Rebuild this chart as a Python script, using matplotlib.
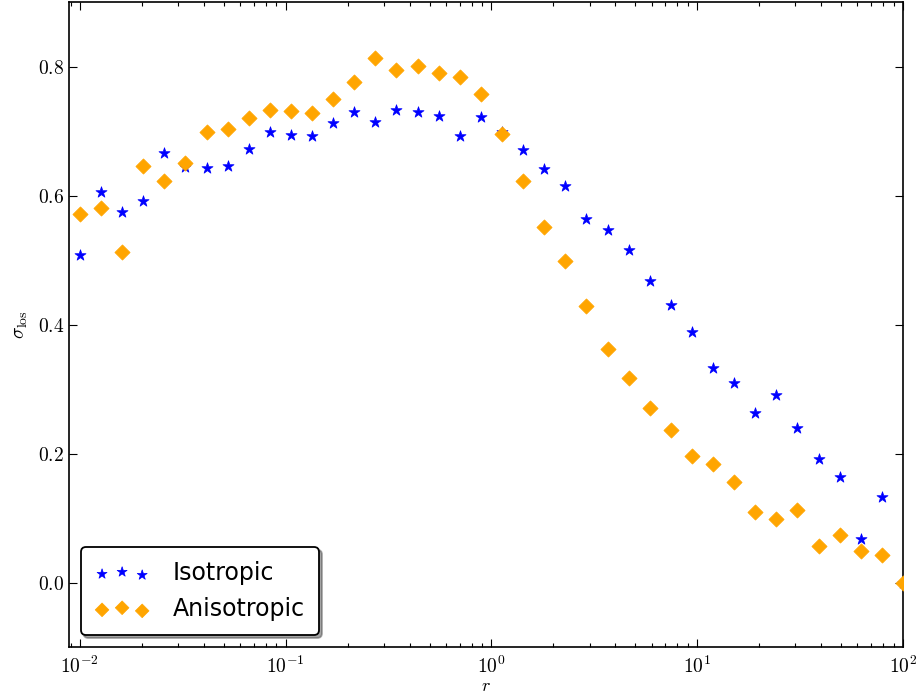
import numpy as np
import matplotlib
matplotlib.use('Agg')
from matplotlib import pyplot as plt
from matplotlib.ticker import FixedLocator, FuncFormatter

# radii (log spaced, 40 bins from 1e-2 to 1e2)
r = [0.01, 0.01267, 0.01604, 0.02031, 0.02572, 0.03257, 0.04125, 0.05223,
     0.06614, 0.08376, 0.1061, 0.1343, 0.1701, 0.2154, 0.2728, 0.3455,
     0.4375, 0.5541, 0.7017, 0.8886, 1.125, 1.425, 1.805, 2.285, 2.894,
     3.665, 4.642, 5.878, 7.444, 9.427, 11.94, 15.12, 19.15, 24.24, 30.70,
     38.88, 49.24, 62.36, 78.97, 100.0]

sig_iso = [0.507, 0.605, 0.575, 0.591, 0.666, 0.644, 0.642, 0.645, 0.672,
           0.699, 0.694, 0.692, 0.713, 0.730, 0.714, 0.733, 0.730, 0.724,
           0.693, 0.722, 0.698, 0.671, 0.641, 0.615, 0.563, 0.546, 0.515,
           0.468, 0.431, 0.388, 0.333, 0.310, 0.263, 0.290, 0.239, 0.192,
           0.164, 0.068, 0.133, 0.0]

sig_aniso = [0.572, 0.581, 0.512, 0.645, 0.623, 0.650, 0.699, 0.703, 0.720,
             0.732, 0.731, 0.728, 0.749, 0.776, 0.813, 0.795, 0.801, 0.790,
             0.783, 0.758, 0.696, 0.622, 0.551, 0.498, 0.428, 0.362, 0.317,
             0.271, 0.237, 0.196, 0.183, 0.156, 0.110, 0.099, 0.112, 0.057,
             0.073, 0.049, 0.043, 0.0]

plt.rcParams['mathtext.fontset'] = 'cm'

fig = plt.figure(figsize=(9.19, 6.96), dpi=100)
ax = fig.add_axes([69 / 919, 1 - 647 / 696, 834 / 919, 645 / 696])

ax.scatter(r, sig_iso, marker='*', s=70, c='blue', edgecolors='blue',
           linewidths=0.5, label='Isotropic', zorder=3)
ax.scatter(r, sig_aniso, marker='D', s=60, c='orange', edgecolors='orange',
           linewidths=0.5, label='Anisotropic', zorder=3)

ax.set_xscale('log')
ax.set_xlim(0.00885, 100)
ax.set_ylim(-0.1, 0.9)

ax.yaxis.set_major_locator(FixedLocator([0.0, 0.2, 0.4, 0.6, 0.8]))
ax.yaxis.set_major_formatter(FuncFormatter(lambda v, p: r'$%.1f$' % v))
ax.xaxis.set_major_formatter(FuncFormatter(lambda v, p: r'$10^{%d}$' % round(np.log10(v))))

ax.tick_params(which='both', direction='in', top=True, right=True, labelsize=14)
ax.tick_params(which='major', length=6, width=0.8)
ax.tick_params(which='minor', length=3, width=0.8)
ax.tick_params(axis='x', pad=6)
for sp in ax.spines.values():
    sp.set_linewidth(1.2)

ax.set_xlabel(r'$r$', fontsize=13, labelpad=0)
ax.set_ylabel(r'$\sigma_{\rm los}$', fontsize=14, labelpad=6)

leg = ax.legend(loc='lower left', scatterpoints=3, shadow=True, fancybox=True,
                prop={'family': 'DejaVu Sans', 'size': 17}, handlelength=2.3,
                borderaxespad=0.5, handletextpad=1.0, labelspacing=0.5,
                markerscale=0.9, borderpad=0.6)
leg.get_frame().set_edgecolor('black')
leg.get_frame().set_linewidth(1.3)

plt.savefig('out.png', dpi=100)
